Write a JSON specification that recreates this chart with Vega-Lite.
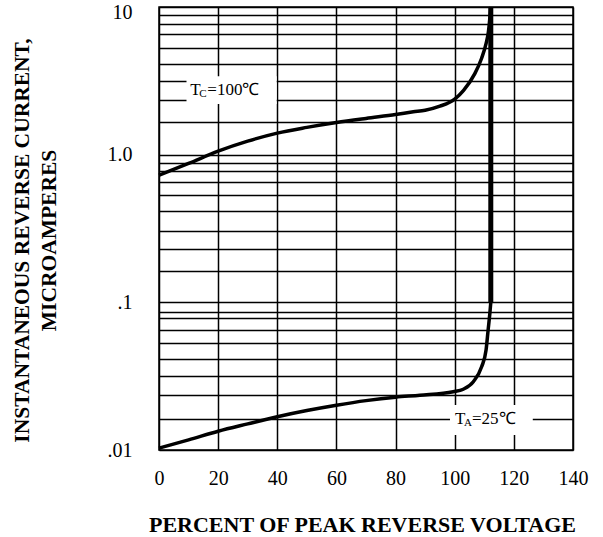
{
  "$schema": "https://vega.github.io/schema/vega-lite/v6.json",
  "width": 414,
  "height": 443,
  "autosize": {"type": "none"},
  "padding": {"left": 159, "top": 7, "right": 30, "bottom": 87},
  "background": "white",
  "config": {
    "view": {"stroke": "black", "strokeWidth": 1.5},
    "font": "Liberation Serif"
  },
  "encoding": {
    "x": {
      "field": "x", "type": "quantitative",
      "scale": {"domain": [0, 140], "nice": false, "zero": false},
      "axis": {
        "values": [0, 20, 40, 60, 80, 100, 120, 140],
        "grid": true, "gridColor": "black", "gridWidth": 1.5, "gridOpacity": 1,
        "ticks": false, "domain": false,
        "labelFont": "Liberation Serif", "labelFontSize": 20, "labelColor": "black",
        "labelPadding": 18, "labelFlush": false, "labelOverlap": false,
        "title": "PERCENT OF PEAK REVERSE VOLTAGE",
        "titleFont": "Liberation Serif", "titleFontSize": 22, "titleFontWeight": "bold", "titleColor": "black",
        "titleX": 203, "titleY": 74, "titleBaseline": "middle", "titleAlign": "center"
      }
    },
    "y": {
      "field": "y", "type": "quantitative",
      "scale": {"type": "log", "domain": [0.01, 10], "nice": false},
      "axis": {
        "values": [10, 8.79, 7.65, 6.52, 5.3, 4.09, 3.13, 2.36, 1.66, 1, 0.873, 0.771, 0.649, 0.53, 0.413, 0.306, 0.231, 0.163, 0.1, 0.0861, 0.0784, 0.0653, 0.053, 0.0413, 0.0315, 0.0237, 0.0163, 0.01],
        "labelExpr": "datum.value == 10 ? '10' : datum.value == 1 ? '1.0' : datum.value == 0.1 ? '.1' : datum.value == 0.01 ? '.01' : ''",
        "grid": true, "gridColor": "black", "gridWidth": 1.5, "gridOpacity": 1,
        "ticks": false, "domain": false,
        "labelFont": "Liberation Serif", "labelFontSize": 20, "labelColor": "black",
        "labelPadding": 27, "labelOverlap": false, "labelFlush": false,
        "labelOffset": {"condition": {"test": "datum.value == 10", "value": 5}, "value": 0},
        "title": ["INSTANTANEOUS REVERSE CURRENT,", "MICROAMPERES"],
        "titleFont": "Liberation Serif", "titleFontSize": 21.5, "titleFontWeight": "bold", "titleColor": "black",
        "titleAngle": -90, "titleX": -137, "titleY": 233, "titleBaseline": "middle", "titleAlign": "center",
        "titleLineHeight": 27
      }
    }
  },
  "layer": [
    {
      "data": {"values": [
        {"x": 9.3, "x2": 39.8, "y": 2.2, "y2": 3.4},
        {"x": 98.4, "x2": 126.4, "y": 0.01265, "y2": 0.0202}
      ]},
      "mark": {"type": "rect", "fill": "white", "stroke": null},
      "encoding": {"x2": {"field": "x2"}, "y2": {"field": "y2"}}
    },
    {
      "data": {"values": [
        {"series": "Tc100", "x": 0, "y": 0.726},
        {"series": "Tc100", "x": 10, "y": 0.872},
        {"series": "Tc100", "x": 20, "y": 1.056},
        {"series": "Tc100", "x": 30, "y": 1.234},
        {"series": "Tc100", "x": 40, "y": 1.4},
        {"series": "Tc100", "x": 50, "y": 1.53},
        {"series": "Tc100", "x": 60, "y": 1.65},
        {"series": "Tc100", "x": 70, "y": 1.76},
        {"series": "Tc100", "x": 80, "y": 1.87},
        {"series": "Tc100", "x": 86, "y": 1.95},
        {"series": "Tc100", "x": 90, "y": 2.0},
        {"series": "Tc100", "x": 95, "y": 2.13},
        {"series": "Tc100", "x": 100, "y": 2.38},
        {"series": "Tc100", "x": 103, "y": 2.73},
        {"series": "Tc100", "x": 106.8, "y": 3.54},
        {"series": "Tc100", "x": 109.1, "y": 4.5},
        {"series": "Tc100", "x": 110.6, "y": 5.65},
        {"series": "Tc100", "x": 111.4, "y": 6.8},
        {"series": "Tc100", "x": 111.9, "y": 8.5},
        {"series": "Tc100", "x": 112.2, "y": 10},
        {"series": "Ta25", "x": 0, "y": 0.0103},
        {"series": "Ta25", "x": 10, "y": 0.0117},
        {"series": "Ta25", "x": 20, "y": 0.0134},
        {"series": "Ta25", "x": 30, "y": 0.01503},
        {"series": "Ta25", "x": 40, "y": 0.0168},
        {"series": "Ta25", "x": 50, "y": 0.0185},
        {"series": "Ta25", "x": 60, "y": 0.0201},
        {"series": "Ta25", "x": 70, "y": 0.0216},
        {"series": "Ta25", "x": 80, "y": 0.0228},
        {"series": "Ta25", "x": 88.2, "y": 0.0235},
        {"series": "Ta25", "x": 99.5, "y": 0.0248},
        {"series": "Ta25", "x": 102.9, "y": 0.0258},
        {"series": "Ta25", "x": 106.3, "y": 0.029},
        {"series": "Ta25", "x": 109.1, "y": 0.0366},
        {"series": "Ta25", "x": 110.6, "y": 0.0475},
        {"series": "Ta25", "x": 111.3, "y": 0.065},
        {"series": "Ta25", "x": 111.9, "y": 0.085},
        {"series": "Ta25", "x": 112.2, "y": 0.1}
      ]},
      "mark": {"type": "line", "color": "black", "strokeWidth": 3.5, "interpolate": "monotone"},
      "encoding": {"detail": {"field": "series"}}
    },
    {
      "data": {"values": [{"x": 112.2, "y": 0.1, "y2": 10}]},
      "mark": {"type": "rule", "color": "black", "strokeWidth": 5},
      "encoding": {"y2": {"field": "y2"}}
    },
    {
      "data": {"values": [
        {"x": 10.6, "y": 2.73, "main": "T"},
        {"x": 100.1, "y": 0.0161, "main": "T"}
      ]},
      "mark": {"type": "text", "align": "left", "baseline": "middle", "font": "Liberation Serif", "fontSize": 17, "color": "black"},
      "encoding": {"text": {"field": "main"}}
    },
    {
      "data": {"values": [
        {"x": 10.6, "y": 2.73, "sub": "C"},
        {"x": 100.1, "y": 0.0161, "sub": "A"}
      ]},
      "mark": {"type": "text", "align": "left", "baseline": "middle", "font": "Liberation Serif", "fontSize": 11, "color": "black", "dx": 9, "dy": 4},
      "encoding": {"text": {"field": "sub"}}
    },
    {
      "data": {"values": [
        {"x": 10.6, "y": 2.73, "rest": "=100℃"},
        {"x": 100.1, "y": 0.0161, "rest": "=25℃"}
      ]},
      "mark": {"type": "text", "align": "left", "baseline": "middle", "font": "Liberation Serif", "fontSize": 17, "color": "black", "dx": 17},
      "encoding": {"text": {"field": "rest"}}
    }
  ]
}
